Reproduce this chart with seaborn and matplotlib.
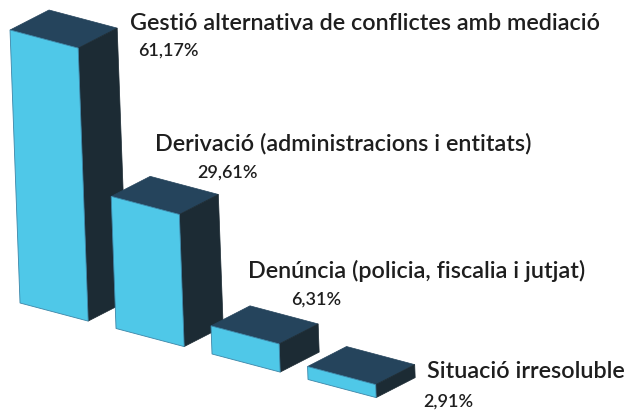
import matplotlib
matplotlib.use("Agg")
import matplotlib.pyplot as plt
import seaborn as sns
import pandas as pd
from matplotlib.transforms import Affine2D
from matplotlib.patches import Polygon

# ---- data ----
categories = [
    "Gestió alternativa de conflictes amb mediació",
    "Derivació (administracions i entitats)",
    "Denúncia (policia, fiscalia i jutjat)",
    "Situació irresoluble",
]
values = [61.17, 29.61, 6.31, 2.91]

# ---- style ----
FRONT = "#4FC8E8"
TOP = "#25445C"
SIDE = "#1C2B34"
EDGE = "#3C86A8"
TEXT = "#1E1E1E"
DEPTH = (39, -20)          # pixel offset of the box depth
# label layout (pixel positions): (name_x, name_y, pct_x, pct_y)
label_pos = [
    (130, 23, 138, 51),
    (155, 144, 197, 173),
    (248, 271, 291, 300),
    (427, 372, 423, 402),
]

sns.set_theme(style="white")
plt.rcParams["font.family"] = ["Lato", "DejaVu Sans"]

fig = plt.figure(figsize=(6.37, 4.13), dpi=100)
ax = fig.add_axes([0, 0, 1, 1])

df = pd.DataFrame({"cat": categories, "val": values})
sns.barplot(data=df, x="cat", y="val", ax=ax, width=0.71, color=FRONT,
            saturation=1, edgecolor=EDGE, linewidth=0.6, errorbar=None)

ax.set_xlim(0, 637)
ax.set_ylim(413, 0)
ax.axis("off")

# oblique projection: (category, value) -> pixel coordinates
proj = Affine2D.from_values(96.0, 25.5, -0.1635, -4.463, 54.1, 312.05)

for i, patch in enumerate(ax.patches):
    x0, y0 = patch.get_x(), patch.get_y()
    w, h = patch.get_width(), patch.get_height()
    patch.set_transform(proj + ax.transData)
    patch.set_zorder(10 + 3 * i + 2)
    tl, tr, br = proj.transform([(x0, y0 + h), (x0 + w, y0 + h), (x0 + w, y0)])
    dx, dy = DEPTH
    top = [tl, tr, (tr[0] + dx, tr[1] + dy), (tl[0] + dx, tl[1] + dy)]
    side = [tr, br, (br[0] + dx, br[1] + dy), (tr[0] + dx, tr[1] + dy)]
    ax.add_patch(Polygon(top, closed=True, facecolor=TOP, edgecolor=TOP,
                         linewidth=0.5, zorder=10 + 3 * i))
    ax.add_patch(Polygon(side, closed=True, facecolor=SIDE, edgecolor=SIDE,
                         linewidth=0.5, zorder=10 + 3 * i + 1))

for (nx, ny, px, py), cat, v in zip(label_pos, categories, values):
    ax.text(nx, ny, cat, ha="left", va="center", fontsize=16.8,
            fontweight="semibold", color=TEXT, zorder=50)
    ax.text(px, py, f"{v:.2f}".replace(".", ",") + "%", ha="left", va="center",
            fontsize=13, fontweight="semibold", color=TEXT, zorder=50)

fig.savefig("out.png", dpi=100, facecolor="white")
